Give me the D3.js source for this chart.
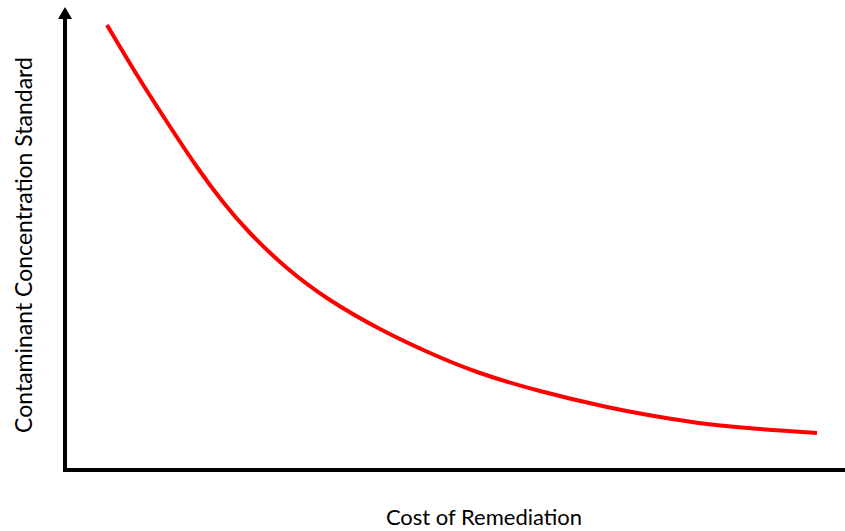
<!DOCTYPE html>
<html>
<head>
<meta charset="utf-8">
<script src="https://cdn.jsdelivr.net/npm/d3@7"></script>
<style>
  html, body { margin: 0; padding: 0; background: #fff; }
  svg { display: block; }
  text { font-family: Lato, "Open Sans", sans-serif; fill: #000; }
</style>
</head>
<body>
<svg id="chart" width="845" height="531"></svg>
<script>
// Data (arbitrary units, conceptual curve)
const cost = [42, 72, 102, 132, 158, 185, 222, 265, 315, 365, 415, 475, 542, 595, 642, 695, 752];
const concentration = [445, 395, 348, 303, 268, 237, 202, 170, 141, 117, 97, 79, 63, 53, 46, 41, 37];
const xTitle = "Cost of Remediation";
const yTitle = "Contaminant Concentration Standard";

(function () {
const svg = d3.select("#chart");
const origin = { x: 65, y: 470 };

const x = d3.scaleLinear().domain([0, 780]).range([origin.x, 845]);
const y = d3.scaleLinear().domain([0, 452]).range([origin.y, 18]);

// X axis (no ticks)
const gx = svg.append("g").attr("transform", `translate(0,${origin.y})`)
  .call(d3.axisBottom(x).tickValues([]).tickSizeOuter(0));
gx.select(".domain").attr("stroke", "#000").attr("stroke-width", 4)
  .attr("d", `M${origin.x - 2},0H${x.range()[1]}`);

// Y axis (no ticks)
const gy = svg.append("g").attr("transform", `translate(${origin.x},0)`)
  .call(d3.axisLeft(y).tickValues([]).tickSizeOuter(0));
gy.select(".domain").attr("stroke", "#000").attr("stroke-width", 4)
  .attr("d", `M0,${origin.y + 2}V${y.range()[1]}`);

// Arrowhead on Y axis
const yTop = y.range()[1];
svg.append("path")
  .attr("d", `M${origin.x},${yTop - 11}L${origin.x + 7},${yTop + 1}L${origin.x - 7},${yTop + 1}Z`)
  .attr("fill", "#000");

// Curve
const pts = cost.map((c, i) => [c, concentration[i]]);
const line = d3.line().x(d => x(d[0])).y(d => y(d[1])).curve(d3.curveNatural);
svg.append("path").datum(pts)
  .attr("d", line)
  .attr("fill", "none")
  .attr("stroke", "#ff0000")
  .attr("stroke-width", 4);

// Titles
svg.append("text")
  .attr("x", 484).attr("y", 525)
  .attr("text-anchor", "middle")
  .attr("font-size", 22)
  .text(xTitle);

svg.append("text")
  .attr("transform", `translate(32,245) rotate(-90)`)
  .attr("text-anchor", "middle")
  .attr("font-size", 23)
  .text(yTitle);
})();
</script>
</body>
</html>
